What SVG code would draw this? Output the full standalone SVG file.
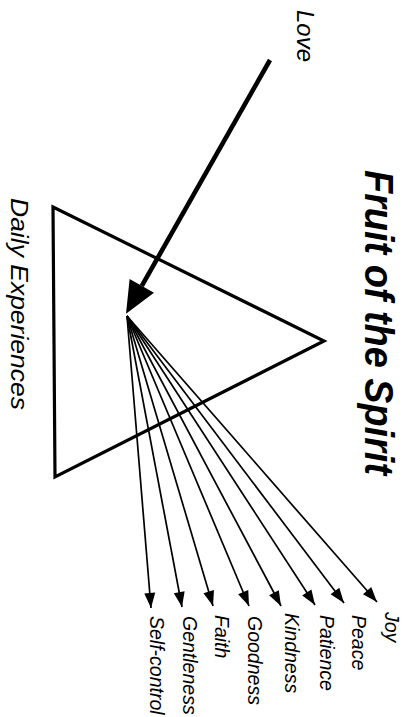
<svg xmlns="http://www.w3.org/2000/svg" width="403" height="717" viewBox="0 0 403 717">
<style>
text{font-family:"Liberation Sans",Arial,sans-serif;font-style:italic;fill:#000}
.lbl{font-size:19.5px}
.ttl{font-size:41px;font-weight:bold}
.fan{stroke:#000;stroke-width:1.7;fill:none;marker-end:url(#sm)}
</style>
<defs>
<marker id="big" markerUnits="userSpaceOnUse" markerWidth="34" markerHeight="30" refX="0" refY="14" orient="auto" viewBox="0 0 34 30" overflow="visible">
<path d="M0,0 L32,14 L0,28 Z" fill="#000"/>
</marker>
<marker id="sm" markerUnits="userSpaceOnUse" markerWidth="16" markerHeight="12" refX="15" refY="5.5" orient="auto" viewBox="0 0 16 12" overflow="visible">
<path d="M0,0 L15,5.5 L0,11 Z" fill="#000"/>
</marker>
</defs>
<rect width="403" height="717" fill="#fff"/>
<g id="title"><text class="ttl" transform="translate(365,170) rotate(90)" textLength="305" lengthAdjust="spacingAndGlyphs">Fruit of the Spirit</text></g>
<g id="love"><text transform="translate(297,10) rotate(90)" style="font-size:23px" textLength="52" lengthAdjust="spacingAndGlyphs">Love</text></g>
<g id="daily">
<polygon points="53,207 324,341 55,477" fill="none" stroke="#000" stroke-width="3.2" stroke-linejoin="miter"/>
<text transform="translate(11,198) rotate(90)" style="font-size:24px" textLength="212" lengthAdjust="spacingAndGlyphs">Daily Experiences</text>
</g>
<g id="fruits">
<g id="self-control"><text class="lbl" transform="translate(150,616) rotate(90)">Self-control</text></g>
<g id="gentleness"><text class="lbl" transform="translate(183,616) rotate(90)">Gentleness</text></g>
<g id="faith"><text class="lbl" transform="translate(215,615) rotate(90)">Faith</text></g>
<g id="goodness"><text class="lbl" transform="translate(248,616) rotate(90)">Goodness</text></g>
<g id="kindness"><text class="lbl" transform="translate(285,613) rotate(90)">Kindness</text></g>
<g id="patience"><text class="lbl" transform="translate(320,615) rotate(90)">Patience</text></g>
<g id="peace"><text class="lbl" transform="translate(352,615) rotate(90)">Peace</text></g>
<g id="joy"><text class="lbl" transform="translate(385,612) rotate(90)">Joy</text></g>
</g>
<g id="connectors">
<line x1="270" y1="60" x2="141.8" y2="285.9" stroke="#000" stroke-width="4.6" marker-end="url(#big)"/>
<line class="fan" x1="127" y1="316" x2="151" y2="608"/>
<line class="fan" x1="127" y1="316" x2="182" y2="607"/>
<line class="fan" x1="127" y1="316" x2="213" y2="606"/>
<line class="fan" x1="127" y1="316" x2="249" y2="606"/>
<line class="fan" x1="127" y1="316" x2="281" y2="606"/>
<line class="fan" x1="127" y1="316" x2="315" y2="605"/>
<line class="fan" x1="127" y1="316" x2="344" y2="603"/>
<line class="fan" x1="127" y1="316" x2="377" y2="602"/>
</g>
</svg>
